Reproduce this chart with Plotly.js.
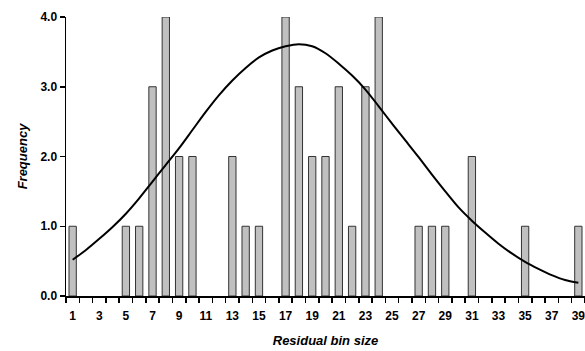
<!DOCTYPE html>
<html><head><meta charset="utf-8">
<script src="https://cdn.plot.ly/plotly-3.0.1.min.js"></script>
<style>html,body{margin:0;padding:0;background:#fff}#chart{width:585px;height:351px}</style>
</head><body><div id="chart"></div>
<script>
const bins = [1,2,3,4,5,6,7,8,9,10,11,12,13,14,15,16,17,18,19,20,21,22,23,24,25,26,27,28,29,30,31,32,33,34,35,36,37,38,39];
const frequency = [1,0,0,0,1,1,3,4,2,2,0,0,2,1,1,0,4,3,2,2,3,1,3,4,0,0,1,1,1,0,2,0,0,0,1,0,0,0,1];
const normalCurve = [0.52,0.66,0.82,0.99,1.18,1.40,1.64,1.88,2.12,2.38,2.64,2.88,3.09,3.27,3.42,3.52,3.58,3.61,3.58,3.48,3.33,3.16,2.96,2.72,2.47,2.23,1.99,1.74,1.50,1.27,1.08,0.91,0.75,0.61,0.49,0.39,0.30,0.23,0.19];
const xTickVals = [1,3,5,7,9,11,13,15,17,19,21,23,25,27,29,31,33,35,37,39];
const yTickVals = [0,1,2,3,4];

const tickFont = {family:'Liberation Sans, Arial, sans-serif', size:12, color:'#000', weight:'bold'};
const titleFont = {family:'Liberation Sans, Arial, sans-serif', size:13, color:'#000', weight:'bold', style:'italic'};

const data = [
  {type:'bar', x:bins, y:frequency.map(v => v === 0 ? null : v), width:0.55,
   marker:{color:'#c0c0c0', line:{color:'#333', width:1}}, hoverinfo:'skip'},
  {type:'scatter', mode:'lines', x:bins, y:normalCurve,
   line:{color:'#000', width:2, shape:'spline', smoothing:0.8}, hoverinfo:'skip'}
];
const layout = {
  width:585, height:351,
  margin:{l:66, r:0, t:17, b:55},
  paper_bgcolor:'#fff', plot_bgcolor:'#fff',
  showlegend:false,
  xaxis:{range:[0.5,39.5], tickvals:xTickVals, ticktext:xTickVals.map(String),
    ticks:'', showgrid:false, zeroline:false, showline:true, linecolor:'#000', linewidth:1.5,
    tickfont:tickFont, ticklabelstandoff:8, ticklabeloverflow:'allow',
    minor:{tick0:0.5, dtick:1, ticks:'outside', ticklen:5, tickwidth:1.5, tickcolor:'#000', showgrid:false},
    title:{text:'Residual bin size', font:titleFont, standoff:14}},
  yaxis:{range:[0,4], tickvals:yTickVals, ticktext:yTickVals.map(v=>v.toFixed(1)),
    ticks:'outside', ticklen:5, tickwidth:1.5, tickcolor:'#000',
    showgrid:false, zeroline:false, showline:true, linecolor:'#000', linewidth:1.5,
    tickfont:tickFont, ticklabeloverflow:'allow',
    title:{text:'Frequency', font:titleFont, standoff:10}}
};
Plotly.newPlot('chart', data, layout, {displayModeBar:false, staticPlot:true});
</script></body></html>
